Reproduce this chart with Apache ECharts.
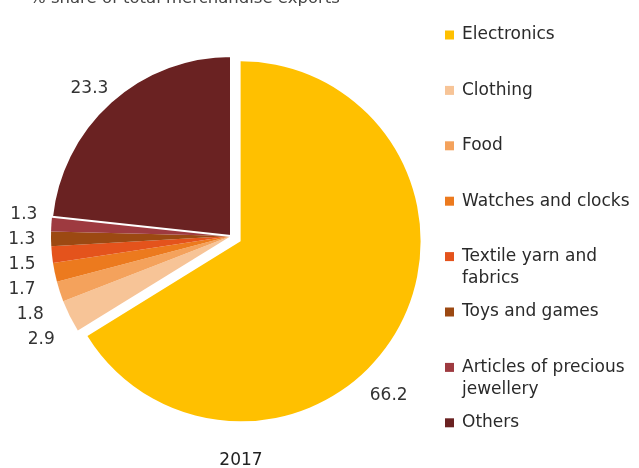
<!DOCTYPE html>
<html>
<head>
<meta charset="utf-8">
<title>Merchandise exports 2017</title>
<script src="https://cdn.jsdelivr.net/npm/echarts@6/dist/echarts.min.js"></script>
<style>
  html, body { margin: 0; padding: 0; background: #ffffff; }
  #chart { width: 639px; height: 468px; }
</style>
</head>
<body>
<div id="chart"></div>
<script>
// Export categories, clockwise from 12 o'clock
const categories = [
  'Electronics',
  'Clothing',
  'Food',
  'Watches and clocks',
  'Textile yarn and fabrics',
  'Toys and games',
  'Articles of precious jewellery',
  'Others'
];
// % share of total merchandise exports
const shares = [66.2, 2.9, 1.8, 1.7, 1.5, 1.3, 1.3, 23.3];
const yearLabel = '2017';
const chartTitle = '% share of total merchandise exports';

// Slice colours, one per category
const palette = ['#FFC000', '#F7C497', '#F4A25C', '#EC7A1E', '#E4531C', '#9C4912', '#9E3A40', '#6A2222'];
// Legend text wrapped onto two lines (leading blank line keeps the key square level with the first line)
const legendWrap = {
  'Textile yarn and fabrics': '\nTextile yarn and\nfabrics',
  'Articles of precious jewellery': '\nArticles of precious\njewellery'
};
// Extra label offsets [dx, dy] applied after the pie's own label layout
const labelNudge = {
  0: [-44, 63],
  1: [1, -19],
  2: [-4, -17],
  3: [-8, -15],
  4: [-5, -13],
  5: [-4, -11],
  6: [-2, -9],
  7: [12, -8]
};

const FONT = '"DejaVu Sans", Verdana, sans-serif';
const LINE = 22;
const legendFirstY = 35;
const legendStep = 55.4;

const chart = echarts.init(document.getElementById('chart'), null, { renderer: 'canvas' });

const legends = categories.map(function (name, i) {
  const twoLine = !!legendWrap[name];
  const iconY = legendFirstY + i * legendStep;
  return {
    data: [name],
    orient: 'vertical',
    left: 445,
    top: twoLine ? iconY - LINE * 1.5 : iconY - LINE / 2,
    padding: 0,
    icon: 'rect',
    itemWidth: 9,
    itemHeight: 9,
    itemStyle: { borderWidth: 0 },
    selectedMode: false,
    formatter: function (n) { return legendWrap[n] || n; },
    textStyle: {
      fontFamily: FONT,
      fontSize: 17,
      lineHeight: LINE,
      color: '#2a2a2a',
      padding: [0, 0, 0, 3]
    }
  };
});

const option = {
  animation: false,
  backgroundColor: '#ffffff',
  color: palette,
  title: {
    text: chartTitle,
    left: 30,
    top: -10,
    padding: 0,
    textStyle: { fontFamily: FONT, fontSize: 16.5, fontWeight: 'normal', color: '#444' }
  },
  legend: legends,
  graphic: [{
    type: 'text',
    x: 241,
    y: 461,
    style: {
      text: yearLabel,
      fontFamily: FONT,
      fontSize: 17,
      fill: '#222',
      textAlign: 'center',
      textVerticalAlign: 'middle'
    }
  }],
  series: [{
    type: 'pie',
    center: [231, 236],
    radius: 180,
    startAngle: 90,
    clockwise: true,
    selectedMode: 'multiple',
    selectedOffset: 11,
    avoidLabelOverlap: true,
    label: {
      show: true,
      position: 'outside',
      fontFamily: FONT,
      fontSize: 17,
      lineHeight: 25,
      color: '#333',
      formatter: function (p) { return p.value.toFixed(1); }
    },
    labelLine: { show: false, length: 8, length2: 4 },
    labelLayout: function (params) {
      const n = labelNudge[params.dataIndex];
      return n ? { dx: n[0], dy: n[1] } : {};
    },
    emphasis: { disabled: true },
    data: categories.map(function (name, i) {
      const item = { name: name, value: shares[i] };
      if (i === 0) item.selected = true;
      if (name === 'Others') item.itemStyle = { borderColor: '#ffffff', borderWidth: 2 };
      return item;
    })
  }]
};

chart.setOption(option);
</script>
</body>
</html>
